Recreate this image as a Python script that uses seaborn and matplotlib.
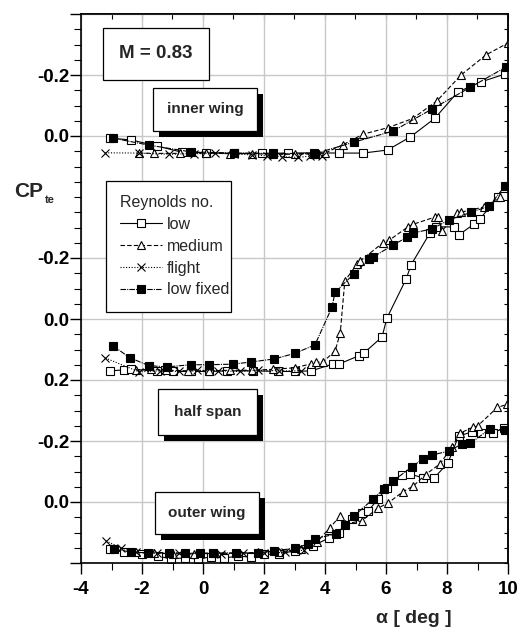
import numpy as np
import matplotlib
matplotlib.use("Agg")
import matplotlib.pyplot as plt
import seaborn as sns
from matplotlib.patches import Rectangle
from matplotlib.transforms import Affine2D
from matplotlib.ticker import MultipleLocator

# ---- data (alpha in deg, CP_te) ----
# inner wing
inner_low_a = [-3.05, -2.35, -1.5, -0.7, 0.1, 1.0, 1.95, 2.8, 3.65, 4.45, 5.25, 6.05, 6.8, 7.6, 8.35, 9.1, 9.9]
inner_low_cp = [0.007, 0.013, 0.033, 0.053, 0.055, 0.057, 0.057, 0.056, 0.055, 0.056, 0.056, 0.046, 0.003, -0.058, -0.144, -0.177, -0.203]
inner_med_a = [-2.1, -1.6, -0.75, 0.1, 0.9, 1.6, 2.3, 3.0, 3.6, 4.0, 4.6, 5.25, 6.05, 6.87, 7.67, 8.46, 9.28, 10.0]
inner_med_cp = [0.056, 0.057, 0.057, 0.056, 0.058, 0.058, 0.06, 0.06, 0.058, 0.056, 0.028, -0.006, -0.027, -0.057, -0.115, -0.2, -0.266, -0.305]
inner_fl_a = [-3.2, -2.1, -1.1, -0.3, 0.4, 1.0, 1.6, 2.1, 2.6, 3.1, 3.5, 3.9]
inner_fl_cp = [0.055, 0.056, 0.06, 0.058, 0.057, 0.058, 0.062, 0.065, 0.068, 0.07, 0.066, 0.066]
inner_fix_a = [-2.95, -1.77, -0.4, 1.0, 2.3, 3.67, 4.95, 6.23, 7.5, 8.77, 9.93]
inner_fix_cp = [0.007, 0.03, 0.052, 0.056, 0.057, 0.058, 0.02, -0.016, -0.088, -0.16, -0.226]

# half span
half_low_a = [-3.05, -2.6, -2.35, -1.5, -1.0, -0.4, 0.2, 0.8, 1.65, 2.45, 3.0, 3.55, 4.25, 4.45, 5.1, 5.27,
              5.87, 6.03, 6.66, 6.82, 7.44, 7.64, 8.23, 8.38, 8.88, 9.08, 9.67, 9.87]
half_low_cp = [0.17, 0.167, 0.165, 0.17, 0.172, 0.172, 0.172, 0.17, 0.17, 0.172, 0.172, 0.17, 0.148, 0.148, 0.121, 0.112,
               0.059, -0.003, -0.131, -0.177, -0.282, -0.302, -0.302, -0.275, -0.311, -0.328, -0.4, -0.403]
half_med_a = [-2.2, -1.7, -1.2, -0.5, 0.2, 0.9, 1.6, 2.3, 3.0, 3.55, 3.7, 3.93, 4.33, 4.5, 4.65, 5.05, 5.15,
              5.9, 6.1, 6.72, 6.87, 7.6, 7.7, 7.85, 8.33, 8.45, 9.2, 9.75]
half_med_cp = [0.167, 0.165, 0.168, 0.17, 0.17, 0.168, 0.168, 0.165, 0.16, 0.147, 0.142, 0.141, 0.105, 0.046, -0.125,
               -0.18, -0.19, -0.25, -0.258, -0.302, -0.31, -0.334, -0.336, -0.29, -0.348, -0.35, -0.367, -0.4]
half_fl_a = [-3.2, -2.1, -1.4, -0.8, -0.2, 0.5, 1.2, 1.8, 2.5, 3.2]
half_fl_cp = [0.128, 0.173, 0.17, 0.172, 0.168, 0.17, 0.172, 0.168, 0.17, 0.17]
half_fix_a = [-2.95, -2.4, -1.77, -1.18, -0.4, 0.2, 0.98, 1.57, 2.33, 3.0, 3.67, 4.23, 4.33, 4.95, 5.45, 5.58,
              6.23, 6.7, 6.88, 7.5, 8.07, 8.79, 9.38, 9.9]
half_fix_cp = [0.088, 0.127, 0.153, 0.157, 0.15, 0.15, 0.148, 0.141, 0.131, 0.113, 0.085, -0.039, -0.088, -0.148,
               -0.197, -0.203, -0.243, -0.268, -0.282, -0.295, -0.325, -0.35, -0.37, -0.436]

# outer wing
outer_low_a = [-3.05, -2.6, -2.0, -1.48, -1.05, -0.6, -0.17, 0.25, 0.7, 1.15, 1.57, 2.0, 2.5, 3.0, 3.6, 4.13,
               4.45, 4.9, 5.22, 5.41, 5.74, 6.03, 6.52, 6.79, 7.21, 7.58, 8.03, 8.38, 8.82, 9.1, 9.5, 9.87]
outer_low_cp = [0.154, 0.165, 0.17, 0.177, 0.187, 0.183, 0.187, 0.18, 0.183, 0.178, 0.18, 0.172, 0.17, 0.16, 0.144,
                0.118, 0.103, 0.056, 0.035, 0.03, -0.01, -0.046, -0.089, -0.092, -0.079, -0.079, -0.128, -0.216,
                -0.23, -0.226, -0.226, -0.243]
outer_med_a = [-2.2, -1.6, -1.0, -0.3, 0.4, 1.1, 1.8, 2.5, 3.2, 3.75, 4.16, 4.49, 4.66, 5.2, 5.74, 6.07, 6.56,
               6.89, 7.3, 7.77, 8.16, 8.43, 8.85, 9.0, 9.65, 9.97]
outer_med_cp = [0.165, 0.168, 0.17, 0.17, 0.168, 0.168, 0.165, 0.163, 0.155, 0.13, 0.084, 0.047, 0.072, 0.062,
                0.02, 0.003, -0.034, -0.052, -0.09, -0.125, -0.18, -0.226, -0.245, -0.249, -0.31, -0.32]
outer_fl_a = [-3.18, -2.7, -2.2, -1.5, -0.8, -0.1, 0.6, 1.3, 2.0, 2.7, 3.3]
outer_fl_cp = [0.128, 0.15, 0.165, 0.168, 0.168, 0.17, 0.17, 0.168, 0.168, 0.165, 0.158]
outer_fix_a = [-2.92, -2.37, -1.8, -1.1, -0.6, -0.1, 0.33, 1.08, 1.8, 2.33, 3.0, 3.44, 3.67, 4.36, 4.66, 4.95,
               5.58, 5.93, 6.23, 6.85, 7.2, 7.5, 8.07, 8.48, 8.77, 9.4, 9.9]
outer_fix_cp = [0.154, 0.164, 0.167, 0.167, 0.167, 0.168, 0.167, 0.167, 0.167, 0.16, 0.152, 0.138, 0.12, 0.105,
                0.076, 0.046, -0.01, -0.043, -0.069, -0.115, -0.141, -0.154, -0.167, -0.19, -0.193, -0.239, -0.236]

series_names = ["low", "medium", "flight", "low fixed"]
group_names = ["inner wing", "half span", "outer wing"]
group_shift = [0.0, 0.6, 1.2]   # each block is stacked 0.6 lower on the axis

ytick_pos = [-0.4, -0.2, 0.0, 0.4, 0.6, 0.8, 1.0, 1.2, 1.4]
ytick_lab = ["", "-0.2", "0.0", "-0.2", "0.0", "0.2", "-0.2", "0.0", ""]
xtick_pos = [-4, -2, 0, 2, 4, 6, 8, 10]
xtick_lab = ["-4", "-2", "0", "2", "4", "6", "8", "10"]

data = [
    [(inner_low_a, inner_low_cp), (inner_med_a, inner_med_cp), (inner_fl_a, inner_fl_cp), (inner_fix_a, inner_fix_cp)],
    [(half_low_a, half_low_cp), (half_med_a, half_med_cp), (half_fl_a, half_fl_cp), (half_fix_a, half_fix_cp)],
    [(outer_low_a, outer_low_cp), (outer_med_a, outer_med_cp), (outer_fl_a, outer_fl_cp), (outer_fix_a, outer_fix_cp)],
]

styles = {
    "low": dict(marker="s", mfc="white", linestyle="-", markersize=5.4),
    "medium": dict(marker="^", mfc="white", linestyle=(0, (4, 2)), markersize=5.4),
    "flight": dict(marker="x", mfc="none", linestyle=(0, (1, 1.5)), markersize=5.5),
    "low fixed": dict(marker="s", mfc="black", linestyle=(0, (5, 1, 1, 1)), markersize=5.4),
}

sns.set_style("ticks")
plt.rcParams["font.family"] = ["Liberation Sans", "DejaVu Sans"]

W, H = 522, 637
fig = plt.figure(figsize=(W / 100, H / 100), dpi=100)
ax = fig.add_axes([81 / W, 1 - 563 / H, 427 / W, 549 / H])
pxT = Affine2D().scale(1 / W, -1 / H).translate(0, 1) + fig.transFigure

handles = []
for gi, group in enumerate(data):
    for si, (a, cp) in enumerate(group):
        name = series_names[si]
        sns.lineplot(x=a, y=np.array(cp) + group_shift[gi], ax=ax, color="black", lw=0.8,
                     mec="black", mew=0.8, estimator=None, sort=False, legend=False, **styles[name])
        if gi == 0:
            handles.append(ax.lines[-1])

ax.set_xlim(-4, 10)
ax.set_ylim(1.4, -0.4)
ax.set_xticks(xtick_pos, xtick_lab)
ax.set_yticks(ytick_pos, ytick_lab)
ax.xaxis.set_minor_locator(MultipleLocator(1))
ax.yaxis.set_minor_locator(MultipleLocator(0.05))
ax.grid(True, which="major", color="#c8c8c8", lw=1.0)
ax.set_axisbelow(True)
for s in ax.spines.values():
    s.set_color("black")
    s.set_linewidth(1.2)
ax.tick_params(which="major", direction="out", length=8, width=1, colors="black", pad=0.5)
ax.tick_params(which="minor", direction="out", length=5, width=0.8, colors="black")
ax.tick_params(axis="x", which="major", pad=5)
for lab in ax.get_xticklabels() + ax.get_yticklabels():
    lab.set_fontsize(13.5)
    lab.set_fontweight("bold")

axr = ax.secondary_yaxis("right")
axr.set_yticks(ytick_pos, [""] * len(ytick_pos))
axr.yaxis.set_minor_locator(MultipleLocator(0.05))
axr.tick_params(which="both", direction="in", length=3, width=0.8, colors="black")
axr.spines["right"].set_linewidth(1.2)
axt = ax.secondary_xaxis("top")
axt.set_xticks(xtick_pos, [""] * len(xtick_pos))
axt.xaxis.set_minor_locator(MultipleLocator(1))
axt.tick_params(which="both", direction="in", length=3.5, width=0.8, colors="black")
axt.spines["top"].set_linewidth(1.2)

ax.set_xlabel("α [ deg ]", fontsize=14, fontweight="bold")
ax.xaxis.set_label_coords((414 - 81) / 427, (563 - 610) / 549)
fig.text(14, 197, "CP", transform=pxT, fontsize=15, fontweight="bold", va="baseline")
fig.text(45, 203, "te", transform=pxT, fontsize=8, fontweight="bold", va="baseline")

leg = ax.legend(handles=handles, labels=series_names, title="Reynolds no.", loc="upper left",
                bbox_to_anchor=(106 / W, 1 - 312 / H, 125 / W, 131 / H), bbox_transform=fig.transFigure,
                mode="expand", borderaxespad=0, frameon=True, fancybox=False, edgecolor="black",
                framealpha=1, fontsize=11.5, title_fontsize=11.5, alignment="left", handlelength=2.6,
                handletextpad=0.3, labelspacing=0.42, borderpad=0.9)
leg.get_frame().set_linewidth(0.9)
leg.set_zorder(6)


def label_box(x0, y0, x1, y1, text, size, shadow):
    if shadow:
        fig.add_artist(Rectangle((x0 + 6, y0 + 6), x1 - x0, y1 - y0, transform=pxT,
                                 fc="black", ec="black", lw=0, zorder=5))
    fig.add_artist(Rectangle((x0, y0), x1 - x0, y1 - y0, transform=pxT,
                             fc="white", ec="black", lw=0.9, zorder=5))
    fig.text((x0 + x1) / 2, (y0 + y1) / 2, text, transform=pxT, ha="center", va="center",
             fontsize=size, fontweight="bold", zorder=6)


label_box(103, 28, 209, 80, "M = 0.83", 13.5, False)
label_box(153, 88, 257, 131, group_names[0], 11, True)
label_box(158, 389, 257, 435, group_names[1], 11, True)
label_box(155, 492, 259, 534, group_names[2], 11, True)

fig.savefig("out.png", dpi=100)
